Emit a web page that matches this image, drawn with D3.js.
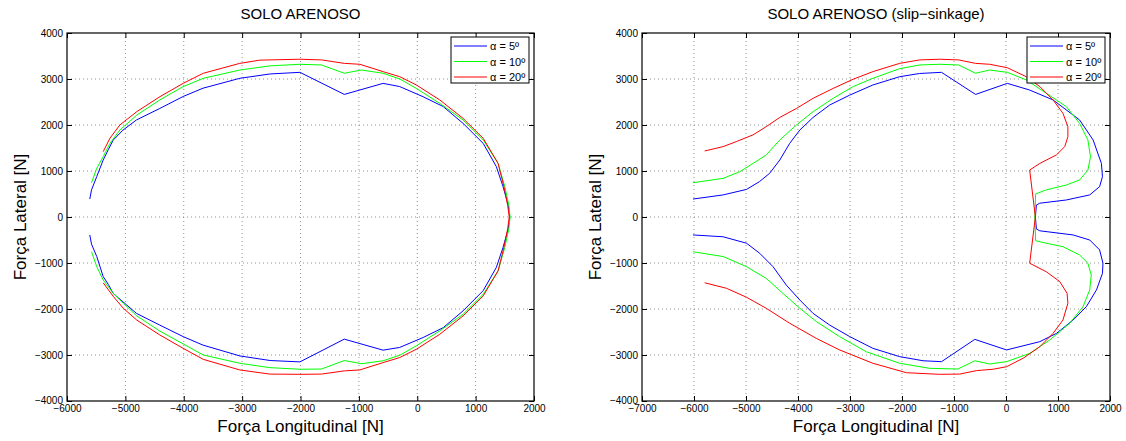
<!DOCTYPE html>
<html><head><meta charset="utf-8">
<script src="https://cdn.jsdelivr.net/npm/d3@7"></script>
<style>body{margin:0;background:#fff}svg{display:block}text{font-family:"Liberation Sans",Arial,Helvetica,sans-serif}</style>
</head><body><svg id="c" width="1126" height="441"></svg>
<script>
const legendLabels = ["α = 5º", "α = 10º", "α = 20º"];
const seriesColors = ["#0000ff", "#00ff00", "#ff0000"];
const yTicks = [-4000,-3000,-2000,-1000,0,1000,2000,3000,4000];
const leftXTicks = [-6000,-5000,-4000,-3000,-2000,-1000,0,1000,2000];
const rightXTicks = [-7000,-6000,-5000,-4000,-3000,-2000,-1000,0,1000,2000];
const leftTitle = "SOLO ARENOSO";
const rightTitle = "SOLO ARENOSO (slip\u2212sinkage)";
const xLabel = "Força Longitudinal [N]";
const yLabel = "Força Lateral [N]";

const left5 = [[-5610,390],[-5580,590],[-5490,880],[-5380,1240],[-5290,1470],[-5210,1670],[-5040,1890],[-4810,2110],[-4410,2360],[-4010,2620],[-3670,2800],[-3040,3015],[-2520,3110],[-2010,3145],[-1250,2665],[-585,2905],[-300,2835],[100,2615],[445,2400],[785,2035],[1130,1600],[1355,1095],[1470,660],[1560,250],[1585,0],
[1560,-250],[1470,-660],[1355,-1095],[1130,-1600],[785,-2040],[445,-2405],[100,-2620],[-300,-2835],[-585,-2895],[-1250,-2655],[-2010,-3150],[-2520,-3120],[-3040,-3020],[-3670,-2785],[-4010,-2600],[-4410,-2350],[-4810,-2095],[-5210,-1660],[-5290,-1470],[-5380,-1295],[-5490,-860],[-5580,-590],[-5610,-390]];
const left10 = [[-5580,745],[-5490,1060],[-5380,1310],[-5265,1600],[-5095,1890],[-4805,2215],[-4410,2545],[-4010,2835],[-3665,3015],[-3040,3195],[-2525,3285],[-2010,3320],[-1640,3305],[-1250,3125],[-955,3195],[-585,3125],[-300,3000],[-15,2795],[385,2470],[785,2110],[1130,1675],[1385,1165],[1500,660],[1570,250],[1590,0],
[1570,-250],[1500,-660],[1385,-1170],[1130,-1680],[785,-2115],[385,-2475],[-15,-2800],[-300,-3005],[-585,-3125],[-955,-3190],[-1250,-3120],[-1640,-3305],[-2010,-3310],[-2525,-3275],[-3040,-3180],[-3665,-3000],[-4010,-2760],[-4410,-2480],[-4805,-2150],[-5035,-1875],[-5205,-1660],[-5380,-1370],[-5490,-1080],[-5580,-755]];
const left20 = [[-5380,1420],[-5265,1710],[-5095,2000],[-4805,2290],[-4410,2615],[-4010,2905],[-3665,3125],[-3040,3340],[-2695,3410],[-2010,3430],[-1640,3415],[-1250,3340],[-985,3320],[-585,3160],[-300,3050],[-15,2870],[385,2545],[785,2145],[1130,1710],[1385,1165],[1485,660],[1550,250],[1575,0],
[1550,-250],[1485,-660],[1385,-1170],[1130,-1715],[785,-2150],[385,-2550],[-15,-2875],[-300,-3055],[-585,-3165],[-985,-3325],[-1250,-3345],[-1640,-3415],[-2010,-3420],[-2525,-3415],[-3040,-3325],[-3665,-3095],[-4010,-2855],[-4410,-2565],[-4805,-2240],[-5035,-1985],[-5205,-1730],[-5380,-1430]];

const right5 = [[-6020,390],[-5440,480],[-4990,600],[-4740,770],[-4545,950],[-4350,1240],[-4160,1600],[-3965,1890],[-3710,2165],[-3390,2435],[-3005,2650],[-2560,2870],[-2045,3050],[-1660,3120],[-1240,3145],[-585,2665],[25,2905],[455,2760],[905,2545],[1415,2110],[1675,1675],[1835,1165],[1855,875],[1800,660],[1610,480],[1160,370],[650,300],[585,260],[565,0],
[585,-260],[650,-300],[1290,-390],[1610,-500],[1800,-715],[1865,-1005],[1855,-1225],[1740,-1585],[1545,-1950],[1290,-2240],[970,-2530],[650,-2710],[10,-2890],[-600,-2660],[-1240,-3145],[-1595,-3125],[-2045,-3035],[-2560,-2855],[-3005,-2600],[-3390,-2350],[-3710,-2095],[-3965,-1805],[-4225,-1480],[-4480,-1080],[-4735,-790],[-4990,-570],[-5440,-430],[-6020,-390]];
const right10 = [[-6020,745],[-5440,840],[-5120,985],[-4865,1165],[-4610,1350],[-4350,1675],[-4030,2000],[-3710,2290],[-3325,2580],[-2940,2835],[-2560,3015],[-2045,3225],[-1660,3305],[-1275,3320],[-910,3305],[-585,3125],[-315,3195],[25,3145],[390,2980],[775,2690],[1160,2400],[1415,2035],[1575,1675],[1625,1310],[1575,1020],[1415,805],[1160,695],[775,590],[570,500],[555,0],
[570,-515],[775,-570],[1095,-645],[1415,-825],[1575,-1005],[1640,-1260],[1610,-1585],[1480,-1950],[1225,-2310],[840,-2675],[455,-2965],[10,-3145],[-315,-3195],[-600,-3125],[-925,-3305],[-1470,-3290],[-2045,-3180],[-2685,-2930],[-3200,-2600],[-3645,-2275],[-3965,-1985],[-4290,-1660],[-4610,-1335],[-4990,-1080],[-5440,-860],[-6020,-755]];
const right20 = [[-5795,1435],[-5440,1530],[-5185,1640],[-4865,1785],[-4610,1965],[-4350,2165],[-4030,2360],[-3710,2580],[-3325,2795],[-2940,2995],[-2560,3160],[-2045,3340],[-1660,3415],[-1275,3430],[-910,3415],[-585,3340],[-315,3320],[25,3245],[390,3050],[650,2835],[905,2545],[1095,2255],[1190,1965],[1190,1745],[1130,1530],[970,1350],[650,1165],[455,1020],[565,0],
[455,-1005],[775,-1190],[1035,-1405],[1175,-1660],[1190,-1875],[1095,-2240],[905,-2530],[650,-2820],[330,-3070],[10,-3255],[-250,-3310],[-570,-3340],[-890,-3415],[-1275,-3420],[-1915,-3385],[-2560,-3180],[-3200,-2890],[-3645,-2640],[-4160,-2310],[-4610,-1985],[-4990,-1745],[-5375,-1550],[-5795,-1430]];

const svg = d3.select("#c");
const fmt = d3.format("");

function panel(x0, x1, xTicks, title, series) {
  const top = 33, bottom = 401;
  const x = d3.scaleLinear().domain([xTicks[0], xTicks[xTicks.length-1]]).range([x0, x1]);
  const y = d3.scaleLinear().domain([-4000, 4000]).range([bottom, top]);
  const g = svg.append("g");
  g.selectAll(".gx").data(xTicks.slice(1, -1)).join("line")
    .attr("x1", d => x(d)).attr("x2", d => x(d)).attr("y1", top).attr("y2", bottom)
    .attr("stroke", "#777").attr("stroke-width", 0.8).attr("stroke-dasharray", "1,3");
  g.selectAll(".gy").data(yTicks.slice(1, -1)).join("line")
    .attr("y1", d => y(d)).attr("y2", d => y(d)).attr("x1", x0).attr("x2", x1)
    .attr("stroke", "#777").attr("stroke-width", 0.8).attr("stroke-dasharray", "1,3");
  const line = d3.line().x(d => x(d[0])).y(d => y(d[1]));
  series.forEach((s, i) => {
    g.append("path").attr("d", line(s)).attr("fill", "none")
      .attr("stroke", seriesColors[i]).attr("stroke-width", 1);
  });
  const tl = 5;
  const ax = g.append("g").attr("transform", `translate(0,${bottom})`)
    .call(d3.axisBottom(x).tickValues(xTicks).tickFormat(fmt).tickSizeInner(-tl).tickSizeOuter(0).tickPadding(5));
  const axt = g.append("g").attr("transform", `translate(0,${top})`)
    .call(d3.axisTop(x).tickValues(xTicks).tickFormat("").tickSizeInner(-tl).tickSizeOuter(0));
  const ay = g.append("g").attr("transform", `translate(${x0},0)`)
    .call(d3.axisLeft(y).tickValues(yTicks).tickFormat(fmt).tickSizeInner(-tl).tickSizeOuter(0).tickPadding(4));
  const ayr = g.append("g").attr("transform", `translate(${x1},0)`)
    .call(d3.axisRight(y).tickValues(yTicks).tickFormat("").tickSizeInner(-tl).tickSizeOuter(0));
  [ax, axt, ay, ayr].forEach(a => { a.select(".domain").remove(); a.selectAll("text").attr("font-size", 10).attr("fill", "#000").style("font-family", "'Liberation Sans',Arial,sans-serif"); a.selectAll("line").attr("stroke", "#000"); });
  ax.selectAll("text").attr("dy", "0.62em");
  ay.selectAll("text").filter(d => d === -4000).attr("dy", "0.2em");
  g.append("rect").attr("x", x0).attr("y", top).attr("width", x1 - x0).attr("height", bottom - top)
    .attr("fill", "none").attr("stroke", "#000").attr("stroke-width", 1.2);
  g.append("text").attr("x", (x0 + x1) / 2).attr("y", 19).attr("text-anchor", "middle")
    .attr("font-size", 15).text(title);
  g.append("text").attr("x", (x0 + x1) / 2).attr("y", 432).attr("text-anchor", "middle")
    .attr("font-size", 17).text(xLabel);
  g.append("text").attr("transform", `translate(${x0 - 47},${(top + bottom) / 2}) rotate(-90)`)
    .attr("text-anchor", "middle").attr("dy", "0.35em").attr("font-size", 17).text(yLabel);
  const lw = 78, lh = 46, lx = x1 - 5 - lw, ly = 37;
  const lg = g.append("g").attr("transform", `translate(${lx},${ly})`);
  lg.append("rect").attr("width", lw).attr("height", lh).attr("fill", "#fff").attr("stroke", "#000").attr("stroke-width", 1);
  legendLabels.forEach((t, i) => {
    const yy = 9 + i * 15.5;
    lg.append("line").attr("x1", 3).attr("x2", 36).attr("y1", yy).attr("y2", yy).attr("stroke", seriesColors[i]).attr("stroke-width", 1);
    lg.append("text").attr("x", 39).attr("y", yy + 4).attr("font-size", 11).text(t);
  });
}
panel(67, 534, leftXTicks, leftTitle, [left5, left10, left20]);
panel(642, 1110, rightXTicks, rightTitle, [right5, right10, right20]);
</script></body></html>
